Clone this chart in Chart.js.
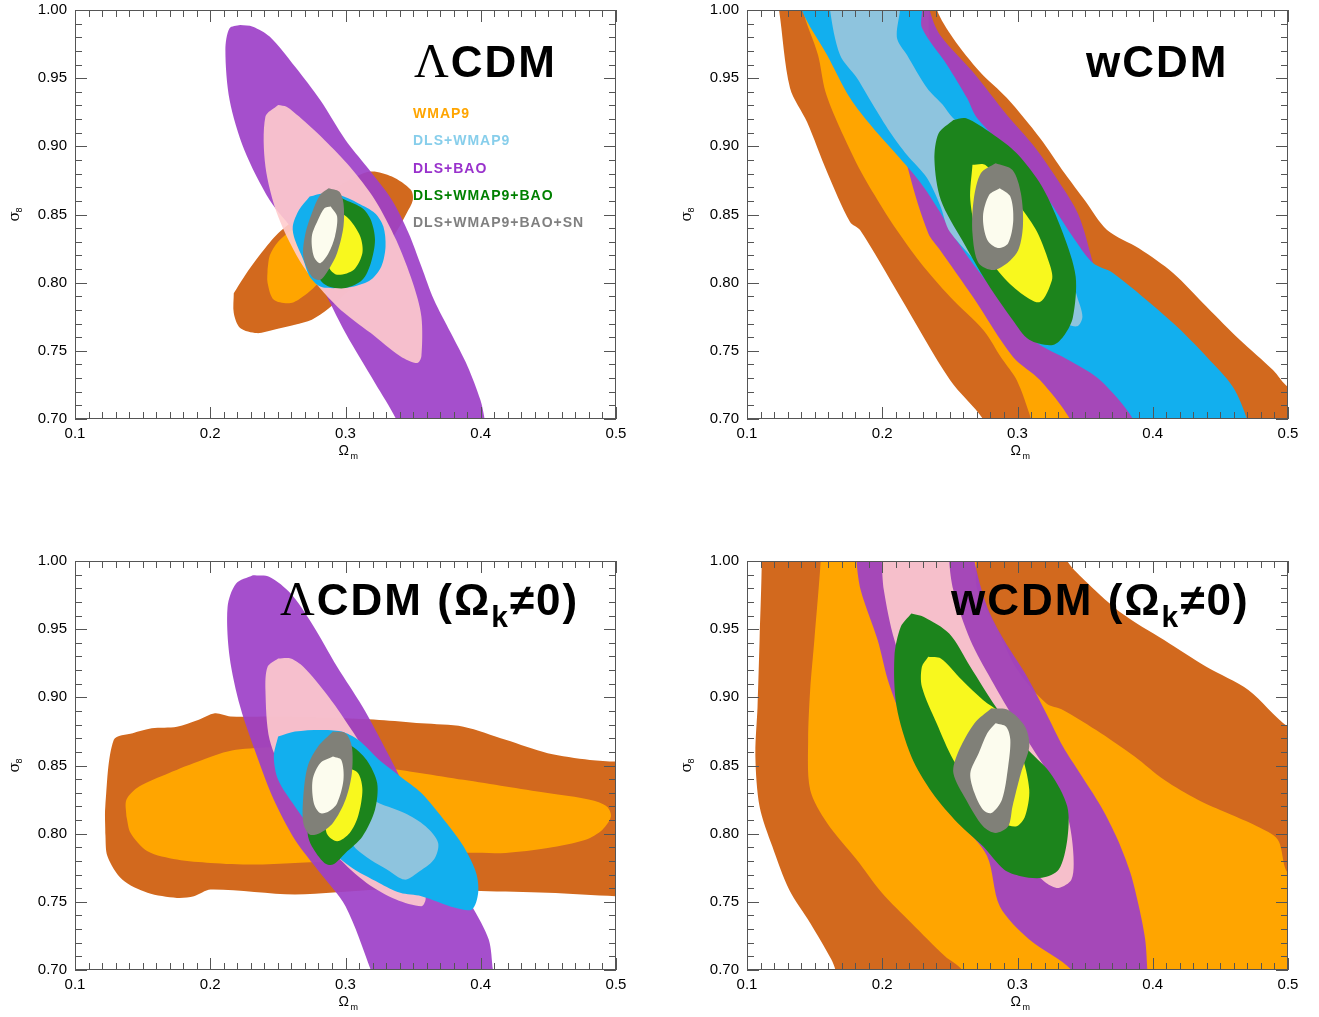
<!DOCTYPE html>
<html>
<head>
<meta charset="utf-8">
<script src="https://cdn.jsdelivr.net/npm/chart.js@4.4.1/dist/chart.umd.min.js"></script>
<style>
  body { margin: 0; background: #fff; }
  .panel { position: absolute; width: 660px; height: 470px; }
</style>
</head>
<body>
<div class="panel" style="left:0;top:0"><canvas id="lcdm" width="660" height="470"></canvas></div>
<div class="panel" style="left:672px;top:0"><canvas id="wcdm" width="660" height="470"></canvas></div>
<div class="panel" style="left:0;top:551px"><canvas id="lcdmk" width="660" height="470"></canvas></div>
<div class="panel" style="left:672px;top:551px"><canvas id="wcdmk" width="660" height="470"></canvas></div>
<script>
// axes
const xTicks = [0.1, 0.2, 0.3, 0.4, 0.5];
const yTicks = [0.70, 0.75, 0.80, 0.85, 0.90, 0.95, 1.00];
const minorStep = 0.01;

const legendNames = ["WMAP9", "DLS+WMAP9", "DLS+BAO", "DLS+WMAP9+BAO", "DLS+WMAP9+BAO+SN"];
const legendColors = ["#ffa500", "#87ceeb", "#9932cc", "#008000", "#808080"];

// contour colours: outer = 95%, inner = 68%
const darkOrange = "rgb(210,105,30)";
const orange = "rgb(255,165,0)";
const purple = "rgba(157,64,200,0.92)";
const pink = "rgba(255,204,205,0.9)";
const blue = "rgb(18,175,238)";
const lightBlue = "rgb(142,196,222)";
const green = "rgb(28,132,28)";
const yellow = "rgb(248,248,30)";
const grey = "rgb(128,128,120)";
const ivory = "rgb(252,252,238)";

// ---- LCDM  [Omega_m, sigma_8] contour outlines
const tlWmapOuter = [[0.2174,0.7923],[0.2252,0.8046],[0.2377,0.8217],[0.2502,0.8363],[0.2688,0.8510],[0.2875,0.8656],[0.3031,0.8754],[0.3187,0.8815],[0.3343,0.8778],[0.3483,0.8681],[0.3498,0.8607],[0.3452,0.8510],[0.3380,0.8380],[0.3280,0.8220],[0.3150,0.8050],[0.3000,0.7920],[0.2875,0.7810],[0.2751,0.7728],[0.2626,0.7691],[0.2470,0.7655],[0.2346,0.7630],[0.2221,0.7667],[0.2174,0.7777],[0.2174,0.7923]];
const tlWmapInner = [[0.2424,0.8100],[0.2440,0.8200],[0.2502,0.8300],[0.2620,0.8400],[0.2780,0.8480],[0.2920,0.8490],[0.2980,0.8380],[0.2920,0.8180],[0.2800,0.8000],[0.2688,0.7900],[0.2595,0.7850],[0.2470,0.7874],[0.2424,0.7997],[0.2424,0.8100]];
const tlBaoOuter = [[0.2221,0.9890],[0.2143,0.9866],[0.2112,0.9707],[0.2143,0.9340],[0.2252,0.8974],[0.2439,0.8607],[0.2626,0.8363],[0.2813,0.7997],[0.3000,0.7630],[0.3218,0.7264],[0.3374,0.7000],[0.3450,0.6800],[0.4050,0.6800],[0.4028,0.7000],[0.3997,0.7141],[0.3903,0.7386],[0.3779,0.7630],[0.3654,0.7874],[0.3561,0.8119],[0.3467,0.8363],[0.3343,0.8607],[0.3156,0.8852],[0.3000,0.9047],[0.2813,0.9340],[0.2626,0.9585],[0.2439,0.9805],[0.2315,0.9878],[0.2221,0.9890]];
const tlBaoInner = [[0.2502,0.9304],[0.2408,0.9218],[0.2408,0.8852],[0.2502,0.8485],[0.2688,0.8119],[0.2938,0.7826],[0.3187,0.7630],[0.3405,0.7460],[0.3530,0.7410],[0.3561,0.7460],[0.3561,0.7752],[0.3498,0.7997],[0.3374,0.8314],[0.3218,0.8607],[0.3031,0.8852],[0.2844,0.9047],[0.2657,0.9218],[0.2564,0.9291],[0.2502,0.9304]];
const tlDlsWmapOuter = [[0.2735,0.8632],[0.2844,0.8656],[0.2953,0.8644],[0.3093,0.8583],[0.3218,0.8510],[0.3280,0.8412],[0.3296,0.8266],[0.3265,0.8119],[0.3187,0.8021],[0.3062,0.7972],[0.2938,0.7960],[0.2813,0.7972],[0.2735,0.8046],[0.2688,0.8168],[0.2626,0.8314],[0.2610,0.8412],[0.2657,0.8534],[0.2735,0.8632]];
const tlAllOuter = [[0.2907,0.8644],[0.3000,0.8607],[0.3125,0.8546],[0.3187,0.8461],[0.3218,0.8314],[0.3187,0.8143],[0.3125,0.8021],[0.3000,0.7960],[0.2875,0.7972],[0.2813,0.8021],[0.2782,0.8168],[0.2813,0.8363],[0.2860,0.8558],[0.2907,0.8644]];
const tlAllInner = [[0.2938,0.8534],[0.3031,0.8461],[0.3109,0.8339],[0.3125,0.8217],[0.3062,0.8095],[0.2938,0.8058],[0.2875,0.8119],[0.2875,0.8314],[0.2907,0.8461],[0.2938,0.8534]];
const tlSnOuter = [[0.2875,0.8693],[0.2953,0.8668],[0.2985,0.8583],[0.2985,0.8412],[0.2938,0.8217],[0.2875,0.8095],[0.2813,0.8021],[0.2751,0.8046],[0.2688,0.8192],[0.2704,0.8363],[0.2751,0.8510],[0.2813,0.8644],[0.2875,0.8693]];
const tlSnInner = [[0.2891,0.8559],[0.2938,0.8485],[0.2922,0.8339],[0.2875,0.8217],[0.2813,0.8143],[0.2766,0.8192],[0.2751,0.8339],[0.2797,0.8461],[0.2844,0.8546],[0.2891,0.8559]];

// ---- wCDM
const trWmapOuter = [[0.1200,1.0200],[0.1237,1.0000],[0.1318,0.9428],[0.1444,0.9178],[0.1592,0.8812],[0.1762,0.8445],[0.1836,0.8386],[0.2132,0.7897],[0.2501,0.7286],[0.2745,0.7000],[0.2830,0.6800],[0.5200,0.6800],[0.5200,0.7150],[0.5000,0.7235],[0.4889,0.7359],[0.4645,0.7579],[0.4400,0.7822],[0.4150,0.8071],[0.3900,0.8250],[0.3662,0.8386],[0.3500,0.8600],[0.3350,0.8800],[0.3166,0.9061],[0.2922,0.9354],[0.2723,0.9545],[0.2523,0.9795],[0.2405,1.0000],[0.2380,1.0200],[0.1200,1.0200]];
const trWmapInner = [[0.1420,1.0200],[0.1414,1.0000],[0.1525,0.9670],[0.1580,0.9400],[0.1680,0.9150],[0.1850,0.8800],[0.2000,0.8550],[0.2107,0.8386],[0.2280,0.8150],[0.2501,0.7897],[0.2750,0.7650],[0.2880,0.7450],[0.2994,0.7286],[0.3100,0.7000],[0.3150,0.6800],[0.4000,0.6800],[0.3700,0.7400],[0.3500,0.7800],[0.3300,0.8200],[0.3000,0.8600],[0.2700,0.9000],[0.2500,0.9400],[0.2350,0.9800],[0.2300,1.0200],[0.1420,1.0200]];
const trBaoOuter = [[0.2000,1.0200],[0.2050,0.9500],[0.2200,0.8800],[0.2340,0.8363],[0.2427,0.8240],[0.2671,0.7895],[0.2967,0.7455],[0.3166,0.7286],[0.3388,0.7000],[0.3450,0.6800],[0.3930,0.6800],[0.3854,0.7000],[0.3750,0.7400],[0.3650,0.7800],[0.3558,0.8144],[0.3450,0.8500],[0.3300,0.8750],[0.3115,0.9010],[0.2922,0.9230],[0.2671,0.9545],[0.2427,0.9817],[0.2350,1.0000],[0.2320,1.0200],[0.2000,1.0200]];
const trDlsWmapOuter = [[0.1390,1.0200],[0.1405,1.0000],[0.1592,0.9670],[0.1762,0.9354],[0.1932,0.9134],[0.2109,0.8936],[0.2279,0.8738],[0.2427,0.8518],[0.2523,0.8350],[0.2700,0.8100],[0.2900,0.7850],[0.3115,0.7579],[0.3400,0.7420],[0.3610,0.7286],[0.3854,0.7000],[0.3900,0.6800],[0.4750,0.6800],[0.4697,0.7000],[0.4593,0.7235],[0.4400,0.7455],[0.4150,0.7704],[0.3706,0.8071],[0.3558,0.8144],[0.3400,0.8350],[0.3200,0.8650],[0.3000,0.8900],[0.2701,0.9208],[0.2627,0.9354],[0.2479,0.9597],[0.2294,0.9868],[0.2294,1.0000],[0.2290,1.0200],[0.1390,1.0200]];
const trDlsWmapInner = [[0.1610,1.0200],[0.1614,1.0000],[0.1688,0.9670],[0.1813,0.9501],[0.1932,0.9303],[0.2057,0.9105],[0.2183,0.8936],[0.2331,0.8768],[0.2427,0.8570],[0.2501,0.8372],[0.2800,0.8050],[0.3000,0.7850],[0.3300,0.7720],[0.3440,0.7680],[0.3480,0.7750],[0.3440,0.7900],[0.3380,0.8100],[0.3250,0.8350],[0.3100,0.8600],[0.2900,0.8900],[0.2523,0.9208],[0.2449,0.9303],[0.2331,0.9428],[0.2183,0.9670],[0.2109,0.9795],[0.2131,1.0000],[0.2140,1.0200],[0.1610,1.0200]];
const trAllOuter = [[0.2526,0.9194],[0.2620,0.9206],[0.2807,0.9096],[0.2994,0.8949],[0.3181,0.8705],[0.3336,0.8363],[0.3430,0.8046],[0.3410,0.7748],[0.3350,0.7620],[0.3262,0.7543],[0.3087,0.7581],[0.2963,0.7728],[0.2776,0.7997],[0.2589,0.8314],[0.2433,0.8607],[0.2386,0.8900],[0.2417,0.9096],[0.2526,0.9194]];
const trAllInner = [[0.2667,0.8864],[0.2760,0.8864],[0.2900,0.8705],[0.3056,0.8510],[0.3150,0.8363],[0.3243,0.8119],[0.3255,0.8020],[0.3166,0.7858],[0.3025,0.7923],[0.2869,0.8070],[0.2713,0.8314],[0.2651,0.8607],[0.2667,0.8864]];
const trSnOuter = [[0.2838,0.8876],[0.2963,0.8827],[0.3025,0.8656],[0.3040,0.8412],[0.2994,0.8217],[0.2838,0.8094],[0.2713,0.8143],[0.2667,0.8363],[0.2676,0.8607],[0.2729,0.8803],[0.2838,0.8876]];
const trSnInner = [[0.2869,0.8693],[0.2947,0.8632],[0.2969,0.8461],[0.2931,0.8290],[0.2854,0.8254],[0.2776,0.8314],[0.2745,0.8485],[0.2791,0.8644],[0.2869,0.8693]];

// ---- LCDM with curvature
const blWmapOuter = [[0.1224,0.8005],[0.1224,0.8200],[0.1287,0.8688],[0.1427,0.8737],[0.1567,0.8773],[0.1754,0.8785],[0.1910,0.8834],[0.2034,0.8883],[0.2150,0.8860],[0.2470,0.8860],[0.2900,0.8850],[0.3249,0.8834],[0.3561,0.8810],[0.3872,0.8785],[0.4184,0.8688],[0.4495,0.8590],[0.4807,0.8541],[0.5000,0.8529],[0.5200,0.8530],[0.5200,0.7540],[0.5000,0.7541],[0.4495,0.7566],[0.4000,0.7580],[0.3600,0.7590],[0.3250,0.7590],[0.2626,0.7554],[0.2003,0.7590],[0.1879,0.7541],[0.1754,0.7529],[0.1536,0.7566],[0.1349,0.7663],[0.1240,0.7834],[0.1224,0.8005]];
const blWmapInner = [[0.1380,0.8127],[0.1380,0.8249],[0.1474,0.8346],[0.1692,0.8444],[0.1941,0.8541],[0.2190,0.8615],[0.2626,0.8627],[0.3249,0.8493],[0.3561,0.8444],[0.3872,0.8395],[0.4184,0.8346],[0.4495,0.8298],[0.4807,0.8249],[0.4932,0.8200],[0.4963,0.8127],[0.4900,0.8029],[0.4776,0.7956],[0.4495,0.7895],[0.4184,0.7859],[0.3872,0.7859],[0.3561,0.7840],[0.3249,0.7810],[0.2938,0.7798],[0.2626,0.7785],[0.2315,0.7773],[0.2003,0.7785],[0.1754,0.7810],[0.1536,0.7871],[0.1411,0.8005],[0.1380,0.8127]];
const blBaoOuter = [[0.2315,0.9895],[0.2190,0.9834],[0.2128,0.9663],[0.2143,0.9298],[0.2221,0.8932],[0.2346,0.8566],[0.2470,0.8249],[0.2626,0.7956],[0.2813,0.7712],[0.3000,0.7468],[0.3187,0.7000],[0.3250,0.6800],[0.4120,0.6800],[0.4090,0.7000],[0.4059,0.7224],[0.3935,0.7468],[0.3810,0.7663],[0.3685,0.7859],[0.3561,0.8054],[0.3436,0.8346],[0.3312,0.8590],[0.3125,0.8932],[0.2938,0.9224],[0.2751,0.9541],[0.2595,0.9761],[0.2439,0.9883],[0.2315,0.9895]];
const blBaoInner = [[0.2502,0.9285],[0.2424,0.9224],[0.2408,0.9054],[0.2439,0.8688],[0.2564,0.8395],[0.2751,0.8078],[0.2938,0.7834],[0.3156,0.7639],[0.3374,0.7517],[0.3561,0.7468],[0.3592,0.7517],[0.3592,0.7761],[0.3530,0.8005],[0.3436,0.8200],[0.3249,0.8444],[0.3062,0.8737],[0.2875,0.9005],[0.2688,0.9224],[0.2595,0.9285],[0.2502,0.9285]];
const blDlsWmapOuter = [[0.2502,0.8712],[0.2626,0.8749],[0.2813,0.8761],[0.2969,0.8749],[0.3093,0.8688],[0.3249,0.8541],[0.3405,0.8420],[0.3561,0.8298],[0.3747,0.8078],[0.3872,0.7907],[0.3966,0.7712],[0.3981,0.7566],[0.3935,0.7444],[0.3810,0.7456],[0.3561,0.7541],[0.3405,0.7566],[0.3249,0.7639],[0.3031,0.7761],[0.2813,0.7956],[0.2626,0.8200],[0.2502,0.8395],[0.2470,0.8566],[0.2502,0.8712]];
const blDlsWmapInner = [[0.3000,0.8200],[0.3093,0.8298],[0.3249,0.8224],[0.3436,0.8151],[0.3592,0.8054],[0.3685,0.7932],[0.3654,0.7810],[0.3530,0.7712],[0.3436,0.7663],[0.3312,0.7734],[0.3187,0.7807],[0.3062,0.7907],[0.3000,0.8054],[0.3000,0.8200]];
const blAllOuter = [[0.2907,0.8663],[0.3031,0.8651],[0.3156,0.8541],[0.3234,0.8371],[0.3218,0.8176],[0.3125,0.7980],[0.3000,0.7859],[0.2907,0.7773],[0.2844,0.7785],[0.2751,0.7907],[0.2720,0.8005],[0.2751,0.8200],[0.2813,0.8444],[0.2860,0.8590],[0.2907,0.8663]];
const blAllInner = [[0.3000,0.8493],[0.3093,0.8444],[0.3125,0.8322],[0.3093,0.8127],[0.3031,0.8005],[0.2938,0.7944],[0.2860,0.8005],[0.2860,0.8200],[0.2907,0.8395],[0.3000,0.8493]];
const blSnOuter = [[0.2907,0.8749],[0.3000,0.8737],[0.3047,0.8639],[0.3047,0.8444],[0.3000,0.8249],[0.2907,0.8078],[0.2813,0.8005],[0.2735,0.7993],[0.2688,0.8078],[0.2688,0.8273],[0.2720,0.8493],[0.2797,0.8639],[0.2907,0.8749]];
const blSnInner = [[0.2907,0.8566],[0.2969,0.8541],[0.2985,0.8395],[0.2938,0.8224],[0.2875,0.8163],[0.2813,0.8151],[0.2766,0.8224],[0.2757,0.8395],[0.2813,0.8517],[0.2907,0.8566]];

// ---- wCDM with curvature
const brWmapOuter = [[0.1100,1.0200],[0.1109,1.0000],[0.1093,0.9420],[0.1078,0.8932],[0.1062,0.8566],[0.1093,0.8200],[0.1187,0.7907],[0.1312,0.7588],[0.1467,0.7344],[0.1623,0.7078],[0.1654,0.7000],[0.1700,0.6800],[0.5200,0.6800],[0.5200,0.8730],[0.5000,0.8785],[0.4707,0.9054],[0.4396,0.9224],[0.4084,0.9420],[0.3773,0.9615],[0.3523,0.9834],[0.3368,1.0000],[0.3300,1.0200],[0.1100,1.0200]];
const brWmapInner = [[0.1550,1.0200],[0.1545,1.0000],[0.1498,0.9420],[0.1467,0.9054],[0.1452,0.8688],[0.1467,0.8322],[0.1592,0.8078],[0.1810,0.7810],[0.1997,0.7566],[0.2215,0.7344],[0.2464,0.7100],[0.2589,0.7000],[0.2650,0.6800],[0.5200,0.6800],[0.5200,0.7650],[0.5000,0.7712],[0.4925,0.7956],[0.4770,0.8054],[0.4551,0.8151],[0.4333,0.8249],[0.4084,0.8395],[0.3866,0.8566],[0.3617,0.8737],[0.3336,0.8907],[0.3212,0.8956],[0.3000,0.9200],[0.2850,0.9500],[0.2700,0.9800],[0.2650,1.0200],[0.1550,1.0200]];
const brBaoOuter = [[0.1810,1.0200],[0.1810,1.0000],[0.1841,0.9785],[0.1966,0.9420],[0.2050,0.9100],[0.2215,0.8688],[0.2371,0.8444],[0.2589,0.8078],[0.2776,0.7834],[0.2869,0.7468],[0.3087,0.7224],[0.3399,0.7000],[0.3450,0.6800],[0.3970,0.6800],[0.3960,0.7000],[0.3944,0.7224],[0.3897,0.7468],[0.3835,0.7712],[0.3741,0.7956],[0.3617,0.8200],[0.3461,0.8444],[0.3336,0.8639],[0.3212,0.8883],[0.3056,0.9176],[0.2900,0.9420],[0.2776,0.9663],[0.2682,1.0000],[0.2670,1.0200],[0.1810,1.0200]];
const brBaoInner = [[0.1997,1.0200],[0.2495,1.0200],[0.2495,1.0000],[0.2526,0.9785],[0.2651,0.9420],[0.2807,0.9127],[0.2994,0.8810],[0.3150,0.8566],[0.3305,0.8322],[0.3383,0.8078],[0.3414,0.7834],[0.3399,0.7663],[0.3305,0.7602],[0.3212,0.7639],[0.3087,0.7761],[0.2682,0.8200],[0.2340,0.8688],[0.2090,0.9420],[0.2012,0.9785],[0.1997,1.0000],[0.1997,1.0200]];
const brAllOuter = [[0.2215,0.9615],[0.2308,0.9590],[0.2495,0.9468],[0.2651,0.9224],[0.2838,0.8932],[0.3056,0.8639],[0.3243,0.8444],[0.3368,0.8200],[0.3368,0.7956],[0.3305,0.7737],[0.3181,0.7676],[0.3025,0.7688],[0.2900,0.7737],[0.2745,0.7907],[0.2558,0.8078],[0.2371,0.8298],[0.2215,0.8566],[0.2106,0.8932],[0.2090,0.9298],[0.2137,0.9517],[0.2215,0.9615]];
const brAllInner = [[0.2340,0.9298],[0.2433,0.9285],[0.2589,0.9127],[0.2745,0.8980],[0.2869,0.8883],[0.3025,0.8590],[0.3087,0.8322],[0.3056,0.8127],[0.2994,0.8054],[0.2900,0.8078],[0.2807,0.8200],[0.2651,0.8371],[0.2526,0.8541],[0.2402,0.8810],[0.2293,0.9078],[0.2293,0.9224],[0.2340,0.9298]];
const brSnOuter = [[0.2807,0.8920],[0.2931,0.8907],[0.3056,0.8785],[0.3087,0.8639],[0.3025,0.8444],[0.2963,0.8200],[0.2931,0.8054],[0.2838,0.8005],[0.2745,0.8054],[0.2620,0.8249],[0.2526,0.8444],[0.2558,0.8590],[0.2682,0.8810],[0.2807,0.8920]];
const brSnInner = [[0.2838,0.8810],[0.2916,0.8785],[0.2947,0.8688],[0.2931,0.8493],[0.2885,0.8249],[0.2807,0.8151],[0.2745,0.8176],[0.2682,0.8298],[0.2651,0.8444],[0.2713,0.8590],[0.2776,0.8737],[0.2838,0.8810]];

// panel titles: [text, style]
const titleLcdm = [["Λ", "serif"], ["CDM", "bold"]];
const titleWcdm = [["wCDM", "bold"]];
const titleLcdmK = [["Λ", "serif"], ["CDM (Ω", "bold"], ["k", "sub"], ["≠0)", "bold"]];
const titleWcdmK = [["wCDM (Ω", "bold"], ["k", "sub"], ["≠0)", "bold"]];

const titleFonts = {
  serif: '48px "Liberation Serif"',
  bold: 'bold 44px "Liberation Sans"',
  sub: 'bold 30px "Liberation Sans"'
};

function isMajor(list, v) {
  return list.some(t => Math.abs(t - v) < 1e-6);
}

// frame with inward ticks on all four sides, titles, legend
const decor = {
  id: "decor",
  afterDatasetsDraw(chart, args, opts) {
    const { ctx, chartArea: a, scales: { x, y } } = chart;
    ctx.save();
    ctx.strokeStyle = "#555";
    ctx.lineWidth = 1;
    ctx.strokeRect(a.left + 0.5, a.top + 0.5, a.right - a.left - 1, a.bottom - a.top - 1);
    ctx.beginPath();
    const nx = Math.round((xTicks[xTicks.length - 1] - xTicks[0]) / minorStep);
    for (let i = 0; i <= nx; i++) {
      const v = xTicks[0] + i * minorStep;
      const px = Math.round(x.getPixelForValue(v)) + 0.5;
      const len = isMajor(xTicks, v) ? 12 : 7;
      ctx.moveTo(px, a.bottom); ctx.lineTo(px, a.bottom - len);
      ctx.moveTo(px, a.top); ctx.lineTo(px, a.top + len);
    }
    const ny = Math.round((yTicks[yTicks.length - 1] - yTicks[0]) / minorStep);
    for (let j = 0; j <= ny; j++) {
      const v = yTicks[0] + j * minorStep;
      const py = Math.round(y.getPixelForValue(v)) + 0.5;
      const len = isMajor(yTicks, v) ? 12 : 7;
      ctx.moveTo(a.left, py); ctx.lineTo(a.left + len, py);
      ctx.moveTo(a.right, py); ctx.lineTo(a.right - len, py);
    }
    ctx.stroke();

    // panel title
    ctx.fillStyle = "#000";
    ctx.textBaseline = "alphabetic";
    ctx.textAlign = "left";
    let cx = opts.titleX;
    for (const [txt, style] of opts.title) {
      ctx.font = titleFonts[style];
      ctx.letterSpacing = style === "serif" ? "0px" : "2px";
      ctx.fillText(txt, cx, opts.titleY + (style === "sub" ? 12 : 0));
      cx += ctx.measureText(txt).width + (style === "serif" ? 2 : 0);
    }
    ctx.letterSpacing = "0px";

    if (opts.legend) {
      ctx.font = 'bold 14px "Liberation Sans"';
      ctx.letterSpacing = "1px";
      legendNames.forEach((name, i) => {
        ctx.fillStyle = legendColors[i];
        ctx.fillText(name, 413, 118 + i * 27.3);
      });
      ctx.letterSpacing = "0px";
    }

    // axis titles
    ctx.fillStyle = "#000";
    const mid = (a.left + a.right) / 2;
    ctx.font = '14px "Liberation Sans"';
    ctx.fillText("Ω", mid - 7, 455);
    ctx.font = '9px "Liberation Sans"';
    ctx.fillText("m", mid + 5, 459);

    ctx.translate(19, (a.top + a.bottom) / 2);
    ctx.rotate(-Math.PI / 2);
    ctx.font = '15px "DejaVu Serif"';
    ctx.fillText("σ", -7, 0);
    ctx.font = '9px "Liberation Sans"';
    ctx.fillText("8", 2, 3);
    ctx.restore();
  }
};

function makePanel(id, layers, title, titleX, titleY, legend) {
  const datasets = layers.map((l, i) => ({
    data: l[0].map(p => ({ x: p[0], y: p[1] })),
    backgroundColor: l[1],
    borderColor: l[1],
    borderWidth: 0,
    fill: "shape",
    pointRadius: 0,
    tension: 0.3,
    order: layers.length - i
  }));
  return new Chart(document.getElementById(id), {
    type: "line",
    data: { datasets },
    options: {
      responsive: false,
      animation: false,
      devicePixelRatio: 1,
      layout: { padding: { top: 10, right: 44, left: 0, bottom: 0 } },
      elements: { line: { capBezierPoints: false } },
      plugins: {
        legend: { display: false },
        tooltip: { enabled: false },
        decor: { title, titleX, titleY, legend }
      },
      scales: {
        x: {
          type: "linear",
          min: xTicks[0],
          max: xTicks[xTicks.length - 1],
          afterBuildTicks: s => { s.ticks = xTicks.map(v => ({ value: v })); },
          afterFit: s => { s.height = 51; s.paddingLeft = 0; s.paddingRight = 0; },
          grid: { display: false, drawTicks: false },
          border: { display: false },
          ticks: {
            padding: 6,
            color: "#000",
            font: { family: "Liberation Sans", size: 15 },
            maxRotation: 0,
            callback: v => v.toFixed(1)
          }
        },
        y: {
          type: "linear",
          min: yTicks[0],
          max: yTicks[yTicks.length - 1],
          afterBuildTicks: s => { s.ticks = yTicks.map(v => ({ value: v })); },
          afterFit: s => { s.width = 75; s.paddingTop = 0; s.paddingBottom = 0; },
          grid: { display: false, drawTicks: false },
          border: { display: false },
          ticks: {
            padding: 8,
            color: "#000",
            font: { family: "Liberation Sans", size: 15 },
            callback: v => v.toFixed(2)
          }
        }
      }
    },
    plugins: [decor]
  });
}

makePanel("lcdm", [
  [tlWmapOuter, darkOrange], [tlWmapInner, orange],
  [tlBaoOuter, purple], [tlBaoInner, pink],
  [tlDlsWmapOuter, blue],
  [tlAllOuter, green], [tlAllInner, yellow],
  [tlSnOuter, grey], [tlSnInner, ivory]
], titleLcdm, 414, 77, true);

makePanel("wcdm", [
  [trWmapOuter, darkOrange], [trWmapInner, orange],
  [trBaoOuter, purple],
  [trDlsWmapOuter, blue], [trDlsWmapInner, lightBlue],
  [trAllOuter, green], [trAllInner, yellow],
  [trSnOuter, grey], [trSnInner, ivory]
], titleWcdm, 414, 77, false);

makePanel("lcdmk", [
  [blWmapOuter, darkOrange], [blWmapInner, orange],
  [blBaoOuter, purple], [blBaoInner, pink],
  [blDlsWmapOuter, blue], [blDlsWmapInner, lightBlue],
  [blAllOuter, green], [blAllInner, yellow],
  [blSnOuter, grey], [blSnInner, ivory]
], titleLcdmK, 280, 64, false);

makePanel("wcdmk", [
  [brWmapOuter, darkOrange], [brWmapInner, orange],
  [brBaoOuter, purple], [brBaoInner, pink],
  [brAllOuter, green], [brAllInner, yellow],
  [brSnOuter, grey], [brSnInner, ivory]
], titleWcdmK, 279, 64, false);
</script>
</body>
</html>
